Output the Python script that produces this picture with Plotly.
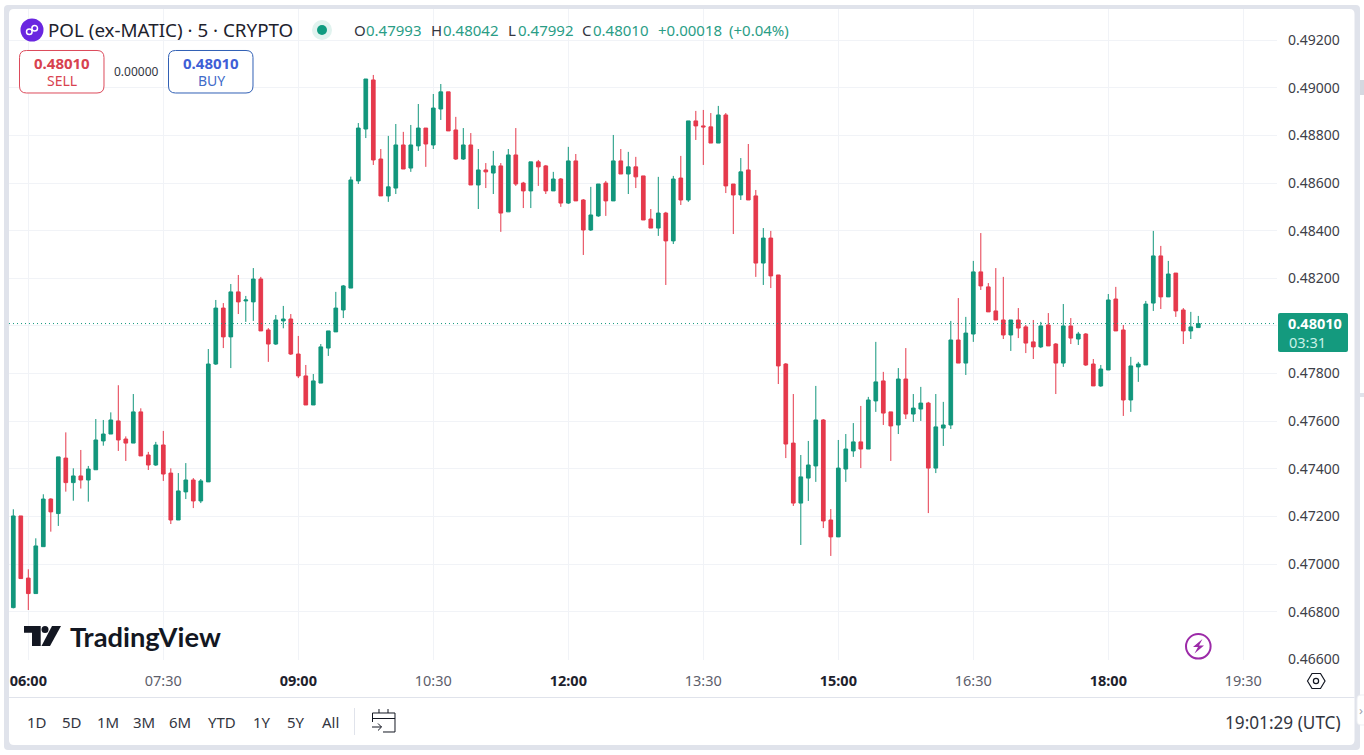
import re
import pandas as pd
import plotly.graph_objects as go

W, H = 1364, 755
L_, R_, T_, B_ = 9, 1277, 9, 660

start_time = "2024-09-20 05:50"
open_ = [0.46817,0.47202,0.46941,0.46876,0.47073,0.47273,0.47212,0.47445,0.47342,0.47370,
0.47353,0.47396,0.47517,0.47546,0.47601,0.47525,0.47508,0.47639,0.47458,0.47416,
0.47500,0.47382,0.47185,0.47303,0.47353,0.47265,0.47345,0.47840,0.48075,0.47954,
0.48143,0.48105,0.48101,0.48197,0.47983,0.47924,0.48021,0.48029,0.47882,0.47790,
0.47668,0.47760,0.47907,0.47975,0.48067,0.48159,0.48609,0.48827,0.49033,0.48701,
0.48546,0.48579,0.48760,0.48663,0.48756,0.48831,0.48760,0.48911,0.48983,0.48823,
0.48701,0.48760,0.48592,0.48655,0.48642,0.48672,0.48479,0.48718,0.48600,0.48567,
0.48689,0.48672,0.48567,0.48617,0.48516,0.48693,0.48529,0.48403,0.48462,0.48600,
0.48525,0.48693,0.48638,0.48668,0.48630,0.48449,0.48411,0.48474,0.48357,0.48621,
0.48529,0.48861,0.48840,0.48836,0.48768,0.48886,0.48596,0.48550,0.48655,0.48546,
0.48264,0.48369,0.48214,0.47840,0.47508,0.47256,0.47361,0.47412,0.47605,0.47185,
0.47114,0.47399,0.47475,0.47513,0.47483,0.47685,0.47769,0.47639,0.47584,0.47777,
0.47630,0.47651,0.47676,0.47403,0.47571,0.47584,0.47941,0.47844,0.47966,0.48227,
0.48164,0.48063,0.48025,0.47962,0.48025,0.47996,0.47933,0.47912,0.48004,0.47924,
0.47844,0.48000,0.47945,0.47966,0.47840,0.47748,0.47815,0.48113,0.47983,0.47689,
0.47828,0.47836,0.48096,0.48294,0.48122,0.48222,0.48067,0.47979,0.47993]
high = [0.47230,0.47202,0.46978,0.47108,0.47293,0.47276,0.47450,0.47553,0.47402,0.47479,
0.47412,0.47609,0.47605,0.47637,0.47751,0.47536,0.47714,0.47654,0.47471,0.47513,
0.47559,0.47402,0.47382,0.47424,0.47361,0.47357,0.47903,0.48109,0.48096,0.48176,
0.48214,0.48126,0.48243,0.48206,0.47991,0.48046,0.48084,0.48050,0.47958,0.47836,
0.47798,0.47924,0.47979,0.48143,0.48172,0.48627,0.48852,0.49037,0.49054,0.48743,
0.48798,0.48848,0.48815,0.48844,0.48932,0.48831,0.48974,0.49016,0.48983,0.48878,
0.48831,0.48810,0.48743,0.48684,0.48735,0.48684,0.48743,0.48831,0.48605,0.48689,
0.48697,0.48676,0.48647,0.48621,0.48752,0.48722,0.48533,0.48584,0.48596,0.48609,
0.48802,0.48743,0.48731,0.48710,0.48630,0.48491,0.48626,0.48479,0.48630,0.48714,
0.48861,0.48903,0.48907,0.48894,0.48924,0.48894,0.48596,0.48705,0.48764,0.48571,
0.48411,0.48399,0.48214,0.47844,0.47714,0.47458,0.47517,0.47748,0.47609,0.47231,
0.47521,0.47546,0.47592,0.47664,0.47702,0.47933,0.47807,0.47639,0.47823,0.47907,
0.47714,0.47744,0.47681,0.47714,0.47681,0.48021,0.48117,0.48038,0.48273,0.48390,
0.48180,0.48243,0.48206,0.48025,0.48075,0.48004,0.48025,0.48017,0.48054,0.47928,
0.48092,0.48033,0.47975,0.47970,0.47861,0.47836,0.48134,0.48164,0.48004,0.47870,
0.47849,0.48105,0.48399,0.48336,0.48273,0.48222,0.48075,0.48059,0.48042]
low = [0.46814,0.46939,0.46807,0.46876,0.47073,0.47136,0.47160,0.47304,0.47266,0.47317,
0.47262,0.47396,0.47497,0.47546,0.47475,0.47433,0.47508,0.47454,0.47395,0.47412,
0.47349,0.47168,0.47185,0.47273,0.47235,0.47256,0.47345,0.47836,0.47907,0.47823,
0.48050,0.48017,0.48021,0.47979,0.47849,0.47920,0.47990,0.47878,0.47781,0.47668,
0.47668,0.47760,0.47874,0.47975,0.48033,0.48159,0.48596,0.48789,0.48676,0.48546,
0.48521,0.48554,0.48659,0.48647,0.48735,0.48668,0.48743,0.48865,0.48819,0.48697,
0.48697,0.48592,0.48491,0.48579,0.48554,0.48395,0.48479,0.48588,0.48495,0.48495,
0.48588,0.48554,0.48567,0.48500,0.48512,0.48525,0.48298,0.48399,0.48458,0.48462,
0.48525,0.48638,0.48554,0.48579,0.48445,0.48411,0.48378,0.48172,0.48344,0.48508,
0.48521,0.48781,0.48676,0.48768,0.48768,0.48558,0.48386,0.48529,0.48529,0.48206,
0.48172,0.48159,0.47756,0.47445,0.47244,0.47080,0.47265,0.47345,0.47151,0.47034,
0.47114,0.47345,0.47450,0.47403,0.47483,0.47639,0.47584,0.47433,0.47546,0.47609,
0.47597,0.47601,0.47214,0.47382,0.47496,0.47567,0.47844,0.47794,0.47933,0.48151,
0.48059,0.48025,0.47945,0.47895,0.47949,0.47886,0.47861,0.47907,0.47916,0.47714,
0.47828,0.47924,0.47920,0.47832,0.47748,0.47744,0.47815,0.47979,0.47622,0.47639,
0.47765,0.47836,0.48063,0.48071,0.48122,0.48038,0.47924,0.47945,0.47992]
close = [0.47202,0.46939,0.46876,0.47076,0.47273,0.47219,0.47450,0.47342,0.47370,0.47353,
0.47399,0.47521,0.47546,0.47605,0.47521,0.47508,0.47639,0.47454,0.47416,0.47500,
0.47378,0.47185,0.47307,0.47353,0.47265,0.47349,0.47840,0.48075,0.47954,0.48143,
0.48101,0.48109,0.48197,0.47979,0.47924,0.48025,0.48029,0.47882,0.47790,0.47668,
0.47769,0.47912,0.47979,0.48075,0.48168,0.48613,0.48831,0.49037,0.48697,0.48546,
0.48584,0.48760,0.48659,0.48760,0.48831,0.48764,0.48915,0.48983,0.48819,0.48701,
0.48760,0.48592,0.48655,0.48647,0.48672,0.48474,0.48718,0.48596,0.48567,0.48689,
0.48668,0.48567,0.48617,0.48516,0.48693,0.48525,0.48403,0.48466,0.48596,0.48525,
0.48693,0.48638,0.48668,0.48626,0.48445,0.48411,0.48474,0.48357,0.48617,0.48529,
0.48861,0.48840,0.48836,0.48768,0.48886,0.48588,0.48550,0.48647,0.48529,0.48264,
0.48369,0.48210,0.47832,0.47504,0.47256,0.47366,0.47416,0.47605,0.47181,0.47114,
0.47403,0.47483,0.47513,0.47483,0.47689,0.47765,0.47634,0.47580,0.47777,0.47630,
0.47655,0.47676,0.47403,0.47576,0.47584,0.47941,0.47844,0.47970,0.48227,0.48168,
0.48059,0.48025,0.47962,0.48025,0.47991,0.47928,0.47912,0.48000,0.47916,0.47844,
0.48000,0.47949,0.47966,0.47836,0.47748,0.47819,0.48109,0.47979,0.47689,0.47832,
0.47840,0.48092,0.48294,0.48122,0.48218,0.48063,0.47979,0.47996,0.48010]

time_ticks = ["06:00","07:30","09:00","10:30","12:00","13:30","15:00","16:30","18:00","19:30"]
bold_ticks = ["06:00","09:00","12:00","15:00","18:00"]
price_ticks = [0.466,0.468,0.470,0.472,0.474,0.476,0.478,0.480,0.482,0.484,0.486,0.488,0.490,0.492]
range_buttons = [("1D",37),("5D",72),("1M",108),("3M",144),("6M",180),("YTD",222),("1Y",262),("5Y",296),("All",331)]

GREEN, RED = "#12967c", "#e5394c"
GRID = "#f1f3f7"
FRAME = "#e0e3eb"
TEXT = "#33363f"
FONT = "Noto Sans"

def fx(x): return (x - L_) / (R_ - L_)
def fy(y): return (B_ - y) / (B_ - T_)

def path(d):
    tok = re.findall(r"[A-Z]|-?\d+\.?\d*", d)
    out, nums = [], []
    for t in tok:
        if t.isalpha():
            out.append(t)
        else:
            nums.append(float(t))
            if len(nums) == 2:
                out.append(f"{fx(nums[0]):.6f},{fy(nums[1]):.6f}")
                nums = []
    return " ".join(out)

shapes, annos = [], []

def shp(d, fill=None, line=None, width=1, layer="above"):
    shapes.append(dict(type="path", path=path(d), xref="paper", yref="paper", layer=layer,
                       fillcolor=fill or "rgba(0,0,0,0)",
                       line=dict(color=line or "rgba(0,0,0,0)", width=width if line else 0)))

def circ(cx, cy, r, fill=None, line=None, width=1, layer="above"):
    shapes.append(dict(type="circle", xref="paper", yref="paper", layer=layer,
                       x0=fx(cx - r), x1=fx(cx + r), y0=fy(cy + r), y1=fy(cy - r),
                       fillcolor=fill or "rgba(0,0,0,0)",
                       line=dict(color=line or "rgba(0,0,0,0)", width=width if line else 0)))

def rrect(x0, y0, x1, y1, r):
    return (f"M {x0+r} {y0} L {x1-r} {y0} Q {x1} {y0} {x1} {y0+r} L {x1} {y1-r} Q {x1} {y1} {x1-r} {y1} "
            f"L {x0+r} {y1} Q {x0} {y1} {x0} {y1-r} L {x0} {y0+r} Q {x0} {y0} {x0+r} {y0} Z")

def txt(x, y, s, size=14, color=TEXT, anchor="left", family=FONT):
    annos.append(dict(x=fx(x), y=fy(y), xref="paper", yref="paper", text=s, showarrow=False,
                      xanchor=anchor, yanchor="middle", borderpad=0, borderwidth=0,
                      font=dict(size=size, color=color, family=family)))

# frame
shp(rrect(4, 5, 1360, 750, 4), fill=FRAME, layer="below")
shp(rrect(9, 9, 1354.5, 745, 5), fill="#ffffff", layer="below")
shp("M 1360 80 L 1364 80 L 1364 95 L 1360 95 Z", fill="#d5d8e0", layer="below")
shp("M 1360 393 L 1364 393 L 1364 397 L 1360 397 Z", fill="#e0e3eb", layer="below")
# time axis separator
shp("M 9 697.5 L 1354.5 697.5", line=FRAME, width=1)
# clip of lowest price label
shp("M 1280 664 L 1350 664 L 1350 690 L 1280 690 Z", fill="#ffffff")

# header
circ(32, 30, 11.5, fill="#6a26e0")
circ(29.3, 31.8, 2.8, line="#ffffff", width=1.5)
circ(34.7, 28.2, 2.8, line="#ffffff", width=1.5)
txt(48, 30.5, "POL (ex-MATIC) · 5 · CRYPTO", size=18.8, color="#1e222d")
circ(322, 30, 10, fill="#e1f3ef")
circ(322, 30, 5, fill="#0f9b80")
LEG = "#2a9d86"
for x, s, c in [(354, "O", TEXT), (366, "0.47993", LEG), (431, "H", TEXT), (443, "0.48042", LEG),
                (508, "L", TEXT), (518, "0.47992", LEG), (582, "C", TEXT), (593, "0.48010", LEG),
                (658, "+0.00018", LEG), (729, "(+0.04%)", LEG)]:
    txt(x, 30.5, s, size=15, color=c)

# sell / buy
shp(rrect(19.5, 50.5, 104, 93, 7), fill="#ffffff", line="#dc4a5b", width=1)
txt(61.5, 63.5, "<b>0.48010</b>", size=15, color="#d8424f", anchor="center")
txt(61.5, 81, "SELL", size=14, color="#d8424f", anchor="center")
txt(136, 71, "0.00000", size=12, color=TEXT, anchor="center")
shp(rrect(168.5, 50.5, 253, 93, 7), fill="#ffffff", line="#3160b5", width=1)
txt(211, 63.5, "<b>0.48010</b>", size=15, color="#3f5fd6", anchor="center")
txt(211, 81, "BUY", size=14, color="#3f6bc9", anchor="center")

# TradingView mark
MARK = "#131722"
shp("M 24 626 L 40.7 626 L 40.7 646 L 32 646 L 32 632.7 L 24 632.7 Z", fill=MARK)
circ(45, 629.6, 3.5, fill=MARK)
shp("M 52 626 L 61 626 L 50 646 L 41.5 646 Z", fill=MARK)
txt(70, 636.5, "<b>TradingView</b>", size=27.3, color=MARK, family="Lato")

# lightning icon
circ(1198.3, 646.3, 12.3, fill="#ffffff", line="#9c2aa8", width=2)
shp("M 1202.5 639 L 1193 647 L 1198 647 L 1194.5 653.5 L 1204 645.5 L 1199 645.5 Z", fill="#9c2aa8")

# settings hexagon
shp("M 1307.5 681 L 1312 673.5 L 1320.5 673.5 L 1325 681 L 1320.5 688.5 L 1312 688.5 Z", line="#131722", width=1.2)
circ(1316, 681, 2.6, line="#131722", width=1.2)

# toolbar
for s, x in range_buttons:
    txt(x, 722, s, size=15, color=TEXT, anchor="center")
shp("M 354.5 708 L 354.5 735", line=FRAME, width=1)
shp("M 372.5 722 L 372.5 713 L 395 713 L 395 732 L 383 732", line="#131722", width=1)
shp("M 372.5 718.5 L 395 718.5", line="#131722", width=1)
shp("M 379 709 L 379 713", line="#131722", width=1)
shp("M 388 709 L 388 713", line="#131722", width=1)
shp("M 372 727 L 381.5 727", line="#131722", width=1)
shp("M 378 723.5 L 381.5 727 L 378 730.5", line="#131722", width=1)
txt(1341, 722, "19:01:29 (UTC)", size=17.2, color=TEXT, anchor="right")

# side tab
shp(rrect(1357, 695, 1368, 725, 4), fill="#ffffff", line="#eceef2", width=1)
txt(1361, 710, "›", size=13, color="#a0a3ad", anchor="center")

# last price line + label
last = close[-1]
shapes.append(dict(type="line", xref="paper", yref="y", x0=0, x1=1, y0=last, y1=last,
                   line=dict(color="#149a7e", width=1, dash="1px,3px"), layer="above"))
shp(rrect(1278, 313, 1348, 352, 2), fill="#149a7e")
txt(1288, 323, f"<b>{last:.5f}</b>", size=14.5, color="#ffffff", anchor="left")
txt(1288.5, 342, "03:31", size=14.5, color="#c9f1e7", anchor="left")

day = start_time[:10]
times = pd.date_range(start_time, periods=len(open_), freq="5min")
tickvals = [f"{day} {t}" for t in time_ticks]
ticktext = [f"<b>{t}</b>" if t in bold_ticks else f"<span style='color:#5d606b'>{t}</span>" for t in time_ticks]

fig = go.Figure(go.Candlestick(
    x=times, open=open_, high=high, low=low, close=close,
    increasing=dict(line=dict(color=GREEN, width=1), fillcolor=GREEN),
    decreasing=dict(line=dict(color=RED, width=1), fillcolor=RED),
    showlegend=False,
))
fig.update_layout(
    width=W, height=H,
    margin=dict(l=L_, r=W - R_, t=T_, b=H - B_, autoexpand=False),
    paper_bgcolor="#ffffff", plot_bgcolor="rgba(0,0,0,0)",
    font=dict(family=FONT, size=14, color=TEXT),
    shapes=shapes, annotations=annos, showlegend=False,
    xaxis=dict(range=[f"{day} 05:47:08", f"{day} 19:52:28"], rangeslider=dict(visible=False),
               tickmode="array", tickvals=tickvals, ticktext=ticktext, tickangle=0,
               showgrid=True, gridcolor=GRID, gridwidth=1, zeroline=False, showline=False,
               ticks="", ticklabelstandoff=10, tickfont=dict(size=14.5, color="#1e222d", family=FONT)),
    yaxis=dict(side="right", range=[0.46597, 0.49331], tickmode="array", tickvals=price_ticks,
               tickformat=".5f", showgrid=True, gridcolor=GRID, gridwidth=1, zeroline=False,
               showline=False, ticks="", ticklabelstandoff=10, tickfont=dict(size=14, color="#3d4048", family=FONT)),
)
fig.write_html("out.html", config=dict(displayModeBar=False),
               post_script="document.body.style.margin='0';document.body.style.overflow='hidden';")
